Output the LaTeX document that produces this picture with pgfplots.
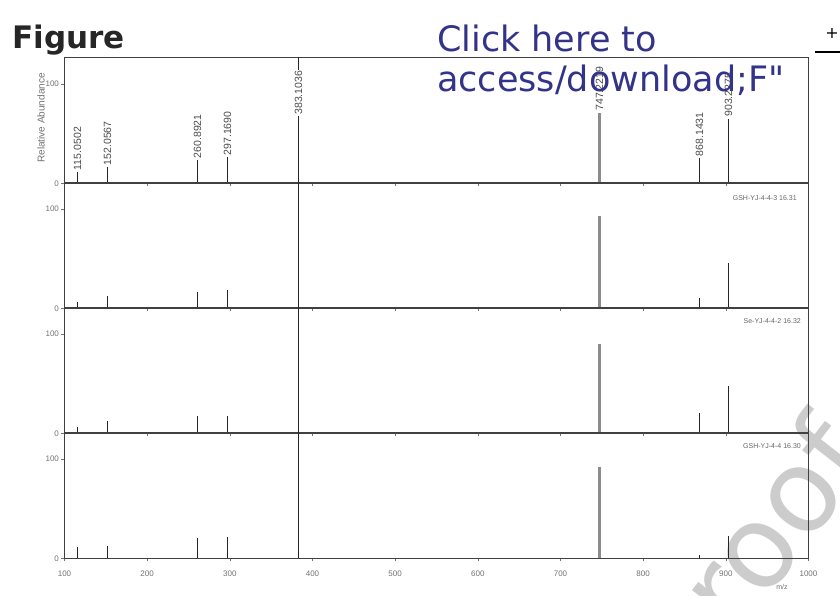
\documentclass[border=0pt]{standalone}
\usepackage{fontspec}
\setmainfont{Liberation Sans}
\newfontfamily\dejavu{DejaVu Sans}
\usepackage{pgfplots}
\pgfplotsset{compat=1.18}
\definecolor{linkblue}{HTML}{33338A}
\begin{document}
\begin{tikzpicture}[x=1pt,y=1pt]
\useasboundingbox (0,0) rectangle (840,595);
\fill[white] (0,0) rectangle (840,595);
\pgfplotsset{
 panel/.style={scale only axis, width=744pt, height=126pt, xmin=100, xmax=1000, ymin=0, ymax=127,
   axis line style={black!75, line width=1pt}, ytick={0,100}, xtick={100,200,...,1000},
   tick style={black!55}, major tick length=3pt, tick align=outside, xtick pos=bottom, ytick pos=left,
   yticklabel style={font=\fontsize{8}{8}\selectfont, text=black!55, xshift=1pt},
   xticklabel style={font=\fontsize{8}{8}\selectfont, text=black!55, yshift=-6pt},
   /pgf/number format/assume math mode=true, /pgf/number format/1000 sep={}, anchor=north west},
 stick/.style={ycomb, no marks, black!85, line width=1.1pt},
 gstick/.style={ycomb, no marks, black!45, line width=2.2pt},
}
\tikzset{
 plab/.style={rotate=90, anchor=west, font=\fontsize{10.5}{10.5}\selectfont, text=black!70, inner sep=1pt},
 slab/.style={anchor=east, font=\fontsize{7}{7}\selectfont, text=black!60},
}
% watermark
\begin{scope}
\clip (0,0) rectangle (840,595);
\node[rotate=52, anchor=east, font=\dejavu\fontsize{115}{115}\selectfont, text=black!20] at (852,158) {Journal Pre-proof};
\end{scope}

% Panel 1
\begin{axis}[panel, at={(78,542)}, xticklabels={}]
\addplot[stick] coordinates {(115.7,11) (152.0,16) (260.9,23) (297.2,26) (868.1,25) (903.2,65)};
\addplot[stick] coordinates {(383.1,300)};
\addplot[gstick] coordinates {(747.2,71)};
\node[plab] at (axis cs:115.7,12) {115.0502};
\node[plab] at (axis cs:152.0,17) {152.0567};
\node[plab] at (axis cs:260.9,24) {260.8921};
\node[plab] at (axis cs:297.2,27) {297.1690};
\node[plab, fill=white] at (axis cs:383.1,68) {383.1036};
\node[plab] at (axis cs:747.2,72) {747.2219};
\node[plab, fill=white] at (axis cs:868.1,26) {868.1431};
\node[plab] at (axis cs:903.2,66) {903.2275};
\end{axis}

% Panel 2
\begin{axis}[panel, at={(78,416)}, xticklabels={}]
\addplot[stick] coordinates {(115.7,6) (152.0,12) (260.9,16) (297.2,18) (868.1,10) (903.2,46)};
\addplot[stick] coordinates {(383.1,300)};
\addplot[gstick] coordinates {(747.2,93)};
\node[slab] at (axis cs:990,111) {GSH-YJ-4-4-3 16.31};
\end{axis}

% Panel 3
\begin{axis}[panel, at={(78,290)}, xticklabels={}]
\addplot[stick] coordinates {(115.7,6) (152.0,12) (260.9,17) (297.2,17) (868.1,20) (903.2,48)};
\addplot[stick] coordinates {(383.1,300)};
\addplot[gstick] coordinates {(747.2,90)};
\node[slab] at (axis cs:995,113) {Se-YJ-4-4-2 16.32};
\end{axis}

% Panel 4
\begin{axis}[panel, at={(78,164)}]
\addplot[stick] coordinates {(115.7,11) (152.0,12) (260.9,20) (297.2,21) (868.1,3) (903.2,22)};
\addplot[stick] coordinates {(383.1,300)};
\addplot[gstick] coordinates {(747.2,92)};
\node[slab] at (axis cs:995,113) {GSH-YJ-4-4 16.30};
\end{axis}

% extras
\draw[black!75, line width=1pt] (822,542) -- (840,542);
\draw[black, line width=2pt] (815,543) -- (840,543);
\node[font=\dejavu\fontsize{16}{16}\selectfont] at (832,562) {+};
\node[rotate=90, font=\fontsize{10}{10}\selectfont, text=black!55] at (41,477) {Relative Abundance};
\node[font=\fontsize{7}{7}\selectfont, text=black!55] at (782,8) {m/z};
\node[anchor=base west, font=\dejavu\bfseries\fontsize{31}{31}\selectfont, inner sep=0, text=black!85] at (12,546) {Figure};
\node[anchor=base west, font=\dejavu\fontsize{35}{35}\selectfont, text=linkblue, inner sep=0] at (437,543) {Click here to};
\node[anchor=base west, font=\dejavu\fontsize{35}{35}\selectfont, text=linkblue, inner sep=0] at (437,503) {access/download;F"};
\end{tikzpicture}
\end{document}
